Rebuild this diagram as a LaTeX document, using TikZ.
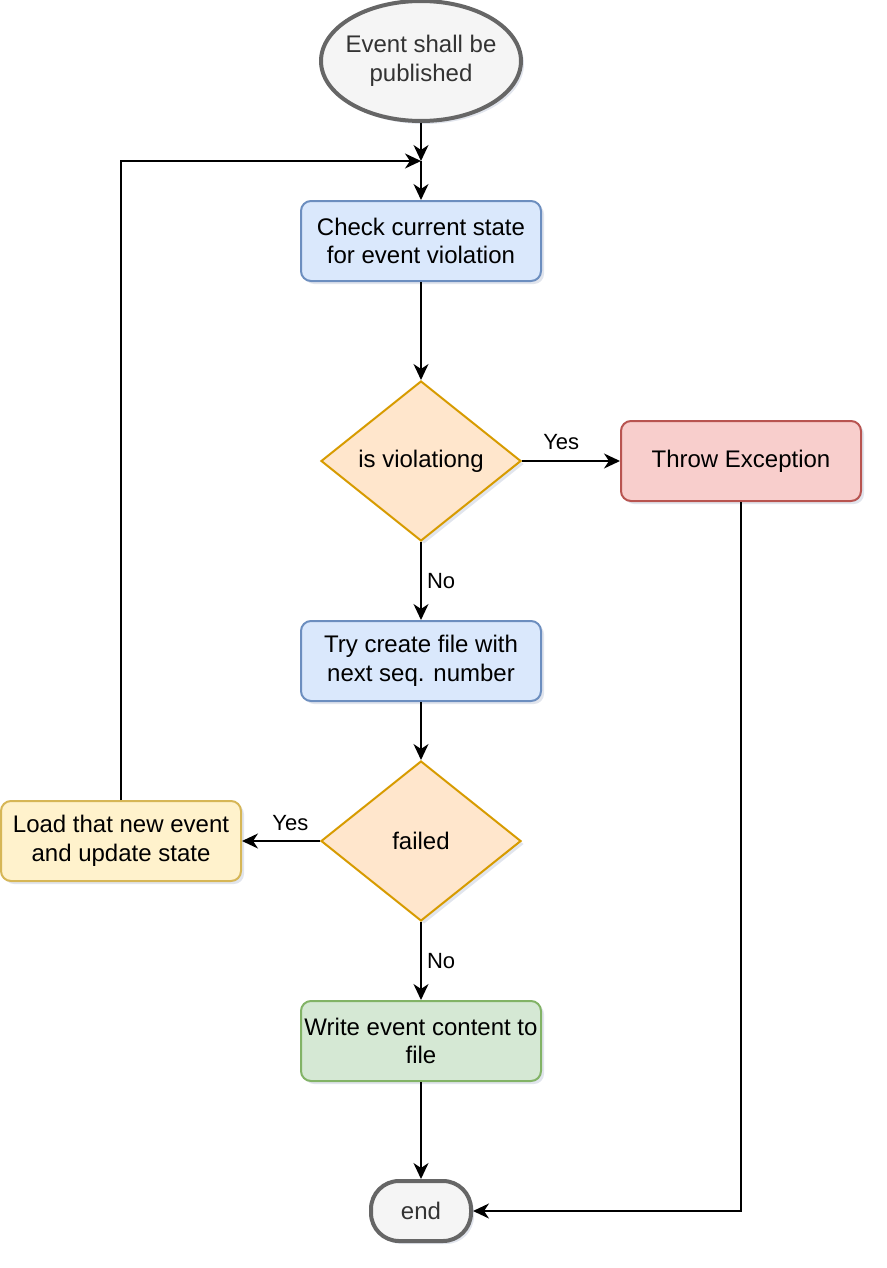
\documentclass[tikz,border=0pt]{standalone}
\usepackage{fontspec}
\setmainfont{Liberation Sans}
\usetikzlibrary{shapes.geometric,arrows.meta,shadows}

\begin{document}
\begin{tikzpicture}[x=1pt,y=-1pt]
\definecolor{startfill}{HTML}{F5F5F5}
\definecolor{startline}{HTML}{666666}
\definecolor{starttext}{HTML}{333333}
\definecolor{bluefill}{HTML}{DAE8FC}
\definecolor{blueline}{HTML}{6C8EBF}
\definecolor{orangefill}{HTML}{FFE6CC}
\definecolor{orangeline}{HTML}{D79B00}
\definecolor{redfill}{HTML}{F8CECC}
\definecolor{redline}{HTML}{B85450}
\definecolor{yellowfill}{HTML}{FFF2CC}
\definecolor{yellowline}{HTML}{D6B656}
\definecolor{greenfill}{HTML}{D5E8D4}
\definecolor{greenline}{HTML}{82B366}
\definecolor{shade}{HTML}{AAB4CC}

\tikzset{
  shd/.style={drop shadow={shadow xshift=3pt, shadow yshift=-3pt, opacity=0.35, fill=shade}},
  txt/.style={font=\fontsize{24}{28.8}\selectfont, align=center, inner sep=0pt},
  box/.style={txt, shd, draw, line width=2pt, rounded corners=10pt, minimum width=240, minimum height=80},
  dec/.style={txt, shd, draw=orangeline, fill=orangefill, line width=2pt, diamond, minimum width=200, minimum height=160},
  term/.style={txt, shd, draw=startline, fill=startfill, text=starttext, line width=4pt},
  flow/.style={draw, line width=2pt, -{Stealth[length=16pt,width=15pt,inset=5pt]}},
  lbl/.style={font=\fontsize{22}{26}\selectfont, fill=white, inner sep=1pt}
}

\useasboundingbox (0,0) rectangle (886,1268);

\node[term, ellipse, inner xsep=-5pt, minimum width=200, minimum height=120] (1) at (421,61) {Event shall be\\published};
\node[box, draw=blueline, fill=bluefill] (2) at (421,241) {Check current state\\for event violation};
\node[dec] (3) at (421,461) {is violationg};
\node[box, draw=redline, fill=redfill] (4) at (741,461) {Throw Exception};
\node[box, draw=blueline, fill=bluefill] (5) at (421,661) {Try create file with\\next seq. number};
\node[dec] (6) at (421,841) {failed};
\node[box, draw=yellowline, fill=yellowfill] (7) at (121,841) {Load that new event\\and update state};
\node[box, draw=greenline, fill=greenfill] (8) at (421,1041) {Write event content to\\file};
\node[term, rectangle, rounded corners=28pt, minimum width=100, minimum height=60] (9) at (421,1211) {end};
\coordinate (j) at (421,161);

\path[flow] (1) -- (j);
\path[flow] (j) -- (2);
\path[flow] (7.north) |- (j);
\path[flow] (2) -- (3);
\path[flow] (3) -- node[lbl, pos=0.4, above=9pt] {Yes} (4);
\path[flow] (3) -- node[lbl, right=4pt] {No} (5);
\path[flow] (5) -- (6);
\path[flow] (6) -- node[lbl, pos=0.38, above=8pt] {Yes} (7);
\path[flow] (6) -- node[lbl, right=4pt] {No} (8);
\path[flow] (8) -- (9);
\path[flow] (4.south) |- (9.east);
\end{tikzpicture}
\end{document}
